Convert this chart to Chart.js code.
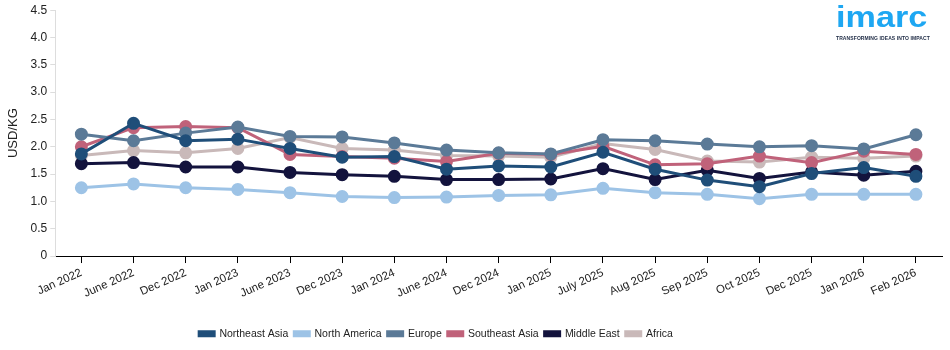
<!DOCTYPE html>
<html>
<head>
<meta charset="utf-8">
<title>Price Trend</title>
<script src="https://cdn.jsdelivr.net/npm/chart.js@4"></script>
<style>
    html, body { margin: 0; padding: 0; background: #fff; }
    .chart-wrap { position: relative; width: 950px; height: 350px; }
    .logo { position: absolute; left: 836px; top: 0px; font-family: "Liberation Sans", Arial, sans-serif; color: #1ea7f2; }
    .logo .name { font-size: 30px; font-weight: bold; line-height: 34px; transform: scaleX(1.14); transform-origin: left top; }
    .logo .tag { font-size: 5px; font-weight: bold; color: #1d2a44; letter-spacing: 0.1px; margin-top: 1px; }
</style>
</head>
<body>
<div class="chart-wrap">
    <canvas id="priceChart" width="950" height="350"></canvas>
    <div class="logo"><div class="name">imarc</div><div class="tag">TRANSFORMING IDEAS INTO IMPACT</div></div>
</div>
<script>
// Periods on the x axis
const periods = ['Jan 2022', 'June 2022', 'Dec 2022', 'Jan 2023', 'June 2023', 'Dec 2023', 'Jan 2024', 'June 2024',
    'Dec 2024', 'Jan 2025', 'July 2025', 'Aug 2025', 'Sep 2025', 'Oct 2025', 'Dec 2025', 'Jan 2026', 'Feb 2026'];

// Prices by region (USD/KG)
const northeastAsia = [1.87, 2.43, 2.11, 2.14, 1.97, 1.81, 1.82, 1.59, 1.65, 1.63, 1.90, 1.59, 1.39, 1.27, 1.51, 1.62, 1.46];
const northAmerica = [1.25, 1.32, 1.25, 1.22, 1.16, 1.09, 1.07, 1.08, 1.11, 1.12, 1.24, 1.16, 1.13, 1.05, 1.13, 1.13, 1.13];
const europe = [2.23, 2.11, 2.25, 2.36, 2.19, 2.18, 2.07, 1.94, 1.89, 1.87, 2.13, 2.11, 2.05, 2.00, 2.02, 1.96, 2.22];
const southeastAsia = [2.00, 2.35, 2.37, 2.35, 1.86, 1.82, 1.79, 1.73, 1.88, 1.86, 2.01, 1.67, 1.69, 1.83, 1.71, 1.92, 1.86];
const middleEast = [1.69, 1.71, 1.63, 1.63, 1.53, 1.49, 1.46, 1.40, 1.40, 1.41, 1.60, 1.40, 1.57, 1.42, 1.54, 1.48, 1.55];
const africa = [1.84, 1.93, 1.89, 1.97, 2.17, 1.97, 1.94, 1.84, 1.83, 1.81, 2.06, 1.95, 1.74, 1.72, 1.81, 1.79, 1.83];

const yTicks = [0, 0.5, 1, 1.5, 2, 2.5, 3, 3.5, 4, 4.5];

function series(label, data, color) {
    return {
        label: label,
        data: data,
        borderColor: color,
        backgroundColor: color,
        pointBackgroundColor: color,
        pointBorderColor: color,
        borderWidth: 3,
        pointRadius: 5,
        tension: 0
    };
}

const fontFamily = '"Liberation Sans", Arial, sans-serif';
Chart.defaults.font.family = fontFamily;
Chart.defaults.color = '#222';

// Legend sits a bit left of the canvas centre
const legendShift = {
    id: 'legendShift',
    afterLayout: function(chart) {
        chart.legend.left -= 38;
        chart.legend.right -= 38;
    }
};

new Chart(document.getElementById('priceChart'), {
    type: 'line',
    data: {
        labels: periods,
        datasets: [
            series('Northeast Asia', northeastAsia, '#1f4e79'),
            series('North America', northAmerica, '#9dc3e6'),
            series('Europe', europe, '#5b7a97'),
            series('Southeast Asia', southeastAsia, '#c0627a'),
            series('Middle East', middleEast, '#13133d'),
            series('Africa', africa, '#c9b9b9')
        ]
    },
    plugins: [legendShift],
    options: {
        responsive: false,
        animation: false,
        layout: { padding: { top: 4, right: 8, left: 6, bottom: 1 } },
        plugins: {
            legend: {
                position: 'bottom',
                labels: {
                    boxWidth: 15,
                    boxHeight: 4,
                    padding: 6,
                    font: { family: fontFamily, size: 10.5 },
                    color: '#222'
                }
            },
            tooltip: { enabled: false }
        },
        scales: {
            x: {
                offset: true,
                grid: { display: true, drawOnChartArea: false, drawTicks: true, tickLength: 7, color: '#000' },
                border: { color: '#000', width: 1 },
                ticks: {
                    autoSkip: false,
                    maxRotation: 24,
                    minRotation: 24,
                    font: { family: fontFamily, size: 11.5 },
                    color: '#222'
                },
                afterFit: function(scale) {
                    scale.height += 19;
                }
            },
            y: {
                min: 0,
                max: 4.5,
                afterBuildTicks: function(axis) {
                    axis.ticks = yTicks.map(function(v) { return { value: v }; });
                },
                grid: { display: true, drawOnChartArea: false, drawTicks: true, tickLength: 5, color: '#ddd' },
                border: { color: '#ddd' },
                ticks: {
                    font: { family: fontFamily, size: 12 },
                    color: '#222',
                    callback: function(value) {
                        return value === 0 ? '0' : value.toFixed(1);
                    }
                },
                title: {
                    display: true,
                    text: 'USD/KG',
                    font: { family: fontFamily, size: 13 },
                    color: '#222',
                    padding: { top: 0, bottom: 6 }
                }
            }
        }
    }
});
</script>
</body>
</html>
